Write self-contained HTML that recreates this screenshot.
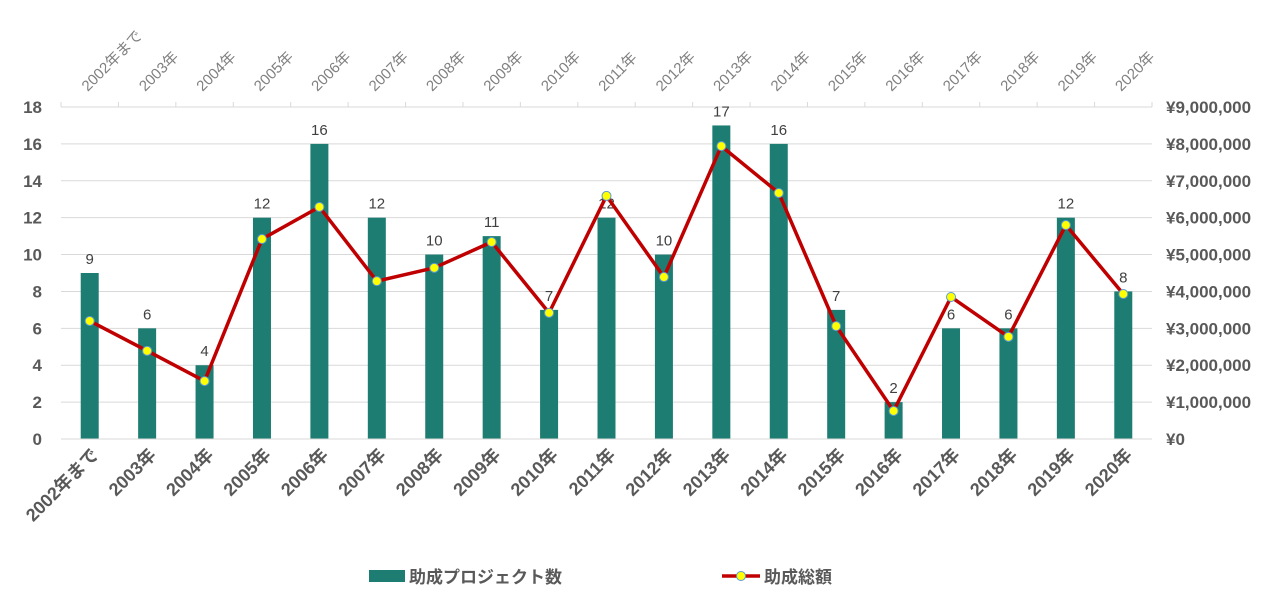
<!DOCTYPE html>
<html><head><meta charset="utf-8"><style>
body{margin:0;background:#fff;}
svg{font-family:"Liberation Sans","Noto Sans CJK JP",sans-serif;}
</style></head><body>
<svg id="c" width="1280" height="610"></svg>
<script>
const categories=["2002年まで","2003年","2004年","2005年","2006年","2007年","2008年","2009年","2010年","2011年","2012年","2013年","2014年","2015年","2016年","2017年","2018年","2019年","2020年"];
const projects=[9,6,4,12,16,12,10,11,7,12,10,17,16,7,2,6,6,12,8];
const amounts=[3200000,2390000,1570000,5420000,6290000,4280000,4640000,5340000,3420000,6590000,4390000,7940000,6670000,3060000,760000,3850000,2770000,5800000,3930000];
const leftTicks=[0,2,4,6,8,10,12,14,16,18];
const rightTicks=[0,1000000,2000000,3000000,4000000,5000000,6000000,7000000,8000000,9000000];
const NS="http://www.w3.org/2000/svg";
const svg=document.getElementById('c');
const X0=61,X1=1152,Y0=439,Y1=107;
const bw=(X1-X0)/categories.length;
const xc=i=>X0+bw*(i+0.5);
const yl=v=>Y0-(v/18)*(Y0-Y1);
const yr=v=>Y0-(v/9000000)*(Y0-Y1);
function el(t,a,txt){const e=document.createElementNS(NS,t);for(const k in a)e.setAttribute(k,a[k]);if(txt!==undefined)e.textContent=txt;svg.appendChild(e);return e;}
leftTicks.forEach(v=>{
 const g=el('line',{x1:X0,x2:X1,y1:yl(v),y2:yl(v),stroke:'#d9d9d9','stroke-width':1});
 
 
 const t=el('text',{x:42,y:yl(v)+6,'text-anchor':'end','font-size':17,'font-weight':'bold',fill:'#595959'},v);
 
 
});
rightTicks.forEach(v=>{
 const t=el('text',{x:1166,y:yr(v)+6,'font-size':17,'font-weight':'bold',fill:'#595959'},'¥'+v.toLocaleString('en-US'));
 
 
});
for(let i=0;i<=categories.length;i++){
 const x=X0+bw*i;
 const tk=el('line',{x1:x,x2:x,y1:Y1,y2:Y1-5,stroke:'#d9d9d9'});
 
 
}
categories.forEach((c,i)=>{
 const x=xc(i);
 const b=el('rect',{x:x-9,y:yl(projects[i]),width:18,height:Y0-yl(projects[i]),fill:'#1e7d72'});
 
 
 const lb=el('text',{x:x,y:yl(projects[i])-9,'text-anchor':'middle','font-size':15,fill:'#404040'},projects[i]);
 
 
 const bt=el('text',{x:x+10,y:456,'text-anchor':'end','font-size':18,'font-weight':'bold',fill:'#595959',transform:`rotate(-45 ${x+10} 456)`},c);
 
 
 const tt=el('text',{x:x-2,y:92,'font-size':15,fill:'#7f7f7f',transform:`rotate(-45 ${x-2} 92)`},c);
 
 
});
const bl=el('line',{x1:X0,x2:X1,y1:Y0,y2:Y0,stroke:'#d9d9d9'});


const pts=amounts.map((v,i)=>xc(i)+','+yr(v)).join(' ');
const pl=el('polyline',{points:pts,fill:'none',stroke:'#c00000','stroke-width':3.5,'stroke-linejoin':'round'});


amounts.forEach((v,i)=>{
 const m=el('circle',{cx:xc(i),cy:yr(v),r:4.5,fill:'#ffff00',stroke:'#5b9bd5','stroke-width':1});
 
 
});
const lr=el('rect',{x:369,y:570,width:36,height:12,fill:'#1e7d72'});


const lt=el('text',{x:409,y:583,'font-size':17,'font-weight':'bold',fill:'#595959'},'助成プロジェクト数');


const ll=el('line',{x1:722,x2:760,y1:576,y2:576,stroke:'#c00000','stroke-width':3.5});


const lc=el('circle',{cx:741,cy:576,r:4.5,fill:'#ffff00',stroke:'#5b9bd5'});


const lt2=el('text',{x:764,y:583,'font-size':17,'font-weight':'bold',fill:'#595959'},'助成総額');


</script>
</body></html>
